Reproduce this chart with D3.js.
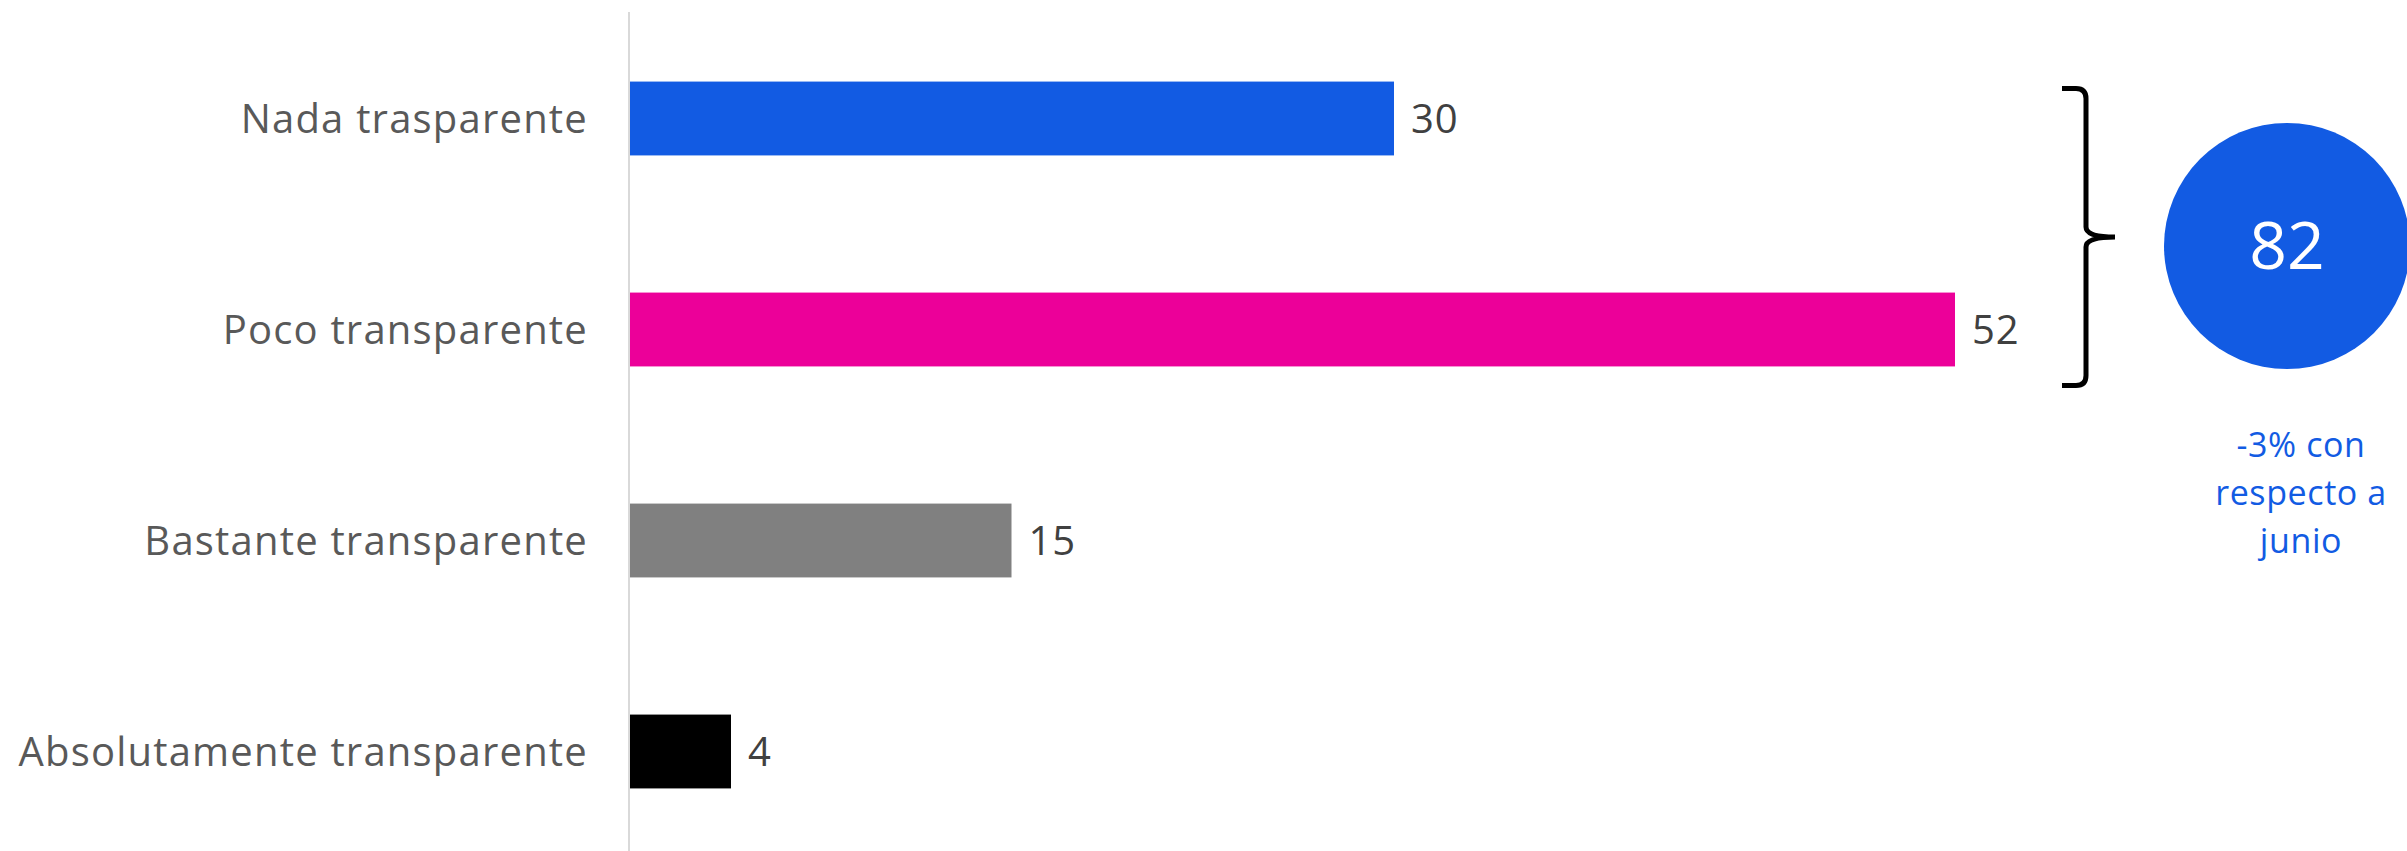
<!DOCTYPE html>
<html>
<head>
<meta charset="utf-8">
<script src="https://cdn.jsdelivr.net/npm/d3@7"></script>
<style>
  html, body { margin: 0; padding: 0; background: #ffffff; }
  svg { display: block; font-family: "Open Sans", Roboto, sans-serif; }
</style>
</head>
<body>
<div id="chart"></div>
<script>
const categories = ['Nada trasparente', 'Poco transparente', 'Bastante transparente', 'Absolutamente transparente'];
const values = [30, 52, 15, 4];
const barColors = ['#125BE3', '#EC0099', '#808080', '#000000'];
const totalValue = 82;
const noteLines = ['-3% con', 'respecto a', 'junio'];

const width = 2407;
const height = 851;
const axisX = 629;

const svg = d3.select('#chart')
    .append('svg')
    .attr('width', width)
    .attr('height', height);

const x = d3.scaleLinear()
    .domain([0, 52])
    .range([axisX, axisX + 1326]);

const y = d3.scaleBand()
    .domain(categories)
    .range([13, 857])
    .paddingInner(0.65)
    .paddingOuter(0.325);

// bars
svg.selectAll('rect.bar')
    .data(values)
    .join('rect')
    .attr('class', 'bar')
    .attr('x', x(0))
    .attr('y', (d, i) => y(categories[i]))
    .attr('width', (d) => x(d) - x(0))
    .attr('height', y.bandwidth())
    .attr('fill', (d, i) => barColors[i]);

// vertical axis line
svg.append('line')
    .attr('x1', axisX)
    .attr('x2', axisX)
    .attr('y1', 12)
    .attr('y2', height)
    .attr('stroke', '#d9d9d9')
    .attr('stroke-width', 2);

// category labels
svg.selectAll('text.cat')
    .data(categories)
    .join('text')
    .attr('class', 'cat')
    .attr('x', axisX - 41)
    .attr('y', (d) => y(d) + y.bandwidth() / 2)
    .attr('dy', '0.35em')
    .attr('text-anchor', 'end')
    .attr('font-size', 40)
    .attr('letter-spacing', 1.2)
    .attr('fill', '#595959')
    .text((d) => d);

// value labels
svg.selectAll('text.val')
    .data(values)
    .join('text')
    .attr('class', 'val')
    .attr('x', (d) => x(d) + 17)
    .attr('y', (d, i) => y(categories[i]) + y.bandwidth() / 2)
    .attr('dy', '0.35em')
    .attr('font-size', 40)
    .attr('letter-spacing', 0.8)
    .attr('fill', '#404040')
    .text((d) => d);

// bracket around first two bars
const bTop = y(categories[0]) + 7;
const bBot = y(categories[1]) + y.bandwidth() + 19;
const bMid = (bTop + bBot) / 2;
const bx0 = 2062, bx1 = 2086, bTip = 2115, r = 10;
const p = d3.path();
p.moveTo(bx0, bTop);
p.lineTo(bx1 - r, bTop);
p.quadraticCurveTo(bx1, bTop, bx1, bTop + r);
p.lineTo(bx1, bMid - r);
p.quadraticCurveTo(bx1, bMid, bTip, bMid);
p.moveTo(bTip, bMid);
p.quadraticCurveTo(bx1, bMid, bx1, bMid + r);
p.lineTo(bx1, bBot - r);
p.quadraticCurveTo(bx1, bBot, bx1 - r, bBot);
p.lineTo(bx0, bBot);
svg.append('path')
    .attr('d', p.toString())
    .attr('fill', 'none')
    .attr('stroke', '#000000')
    .attr('stroke-width', 5);

// total circle
const cx = 2287, cy = 246;
svg.append('circle')
    .attr('cx', cx)
    .attr('cy', cy)
    .attr('r', 123)
    .attr('fill', '#125BE3');

svg.append('text')
    .attr('x', cx)
    .attr('y', cy)
    .attr('dy', '0.35em')
    .attr('text-anchor', 'middle')
    .attr('font-size', 66)
    .attr('fill', '#ffffff')
    .text(totalValue);

svg.selectAll('text.note')
    .data(noteLines)
    .join('text')
    .attr('class', 'note')
    .attr('x', 2301)
    .attr('y', (d, i) => 445 + i * 48)
    .attr('dy', '0.35em')
    .attr('text-anchor', 'middle')
    .attr('font-size', 34)
    .attr('letter-spacing', 0.6)
    .attr('fill', '#125BE3')
    .text((d) => d);
</script>
</body>
</html>
